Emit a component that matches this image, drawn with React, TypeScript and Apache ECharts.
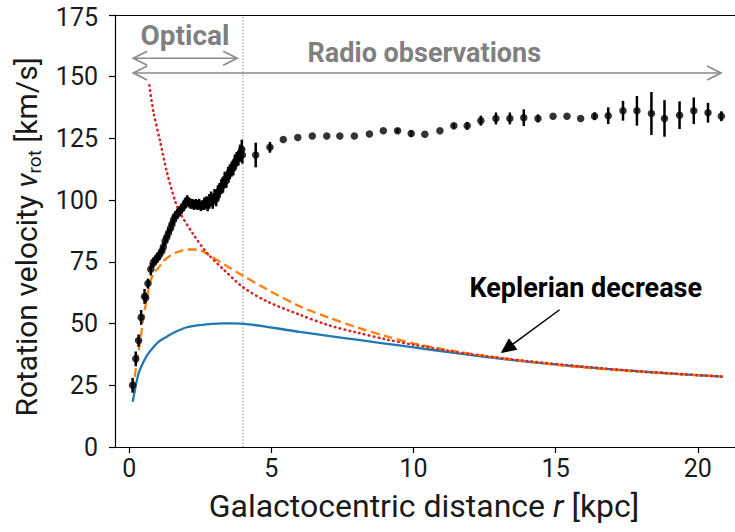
import React, { useEffect, useRef } from "react";
import * as echarts from "echarts";

// ---------- data ----------
const xTickValues = [0, 5, 10, 15, 20];

// optical rotation curve points: [r (kpc), v (km/s), error]
const opticalPoints = [
  [0.12, 25, 3], [0.23, 35.7, 3], [0.33, 43.1, 2.5], [0.42, 52.5, 3], [0.54, 61, 3],
  [0.58, 60.5, 2], [0.66, 66.2, 2], [0.76, 72, 2.5], [0.85, 74.7, 2], [0.91, 75.5, 2],
  [0.99, 76.7, 2], [1.06, 77.8, 2], [1.15, 79.4, 2], [1.2, 81, 2], [1.26, 83.4, 2],
  [1.32, 85, 2], [1.38, 86.7, 2], [1.45, 88.5, 2], [1.5, 90.1, 2], [1.56, 92, 2],
  [1.62, 93.5, 2], [1.7, 94.5, 2], [1.77, 95.5, 2], [1.84, 96.5, 2], [1.91, 97.5, 2],
  [1.98, 98.8, 2], [2.04, 100, 2], [2.1, 99, 2], [2.16, 98.5, 2], [2.22, 98.5, 2],
  [2.28, 98, 2], [2.34, 98.5, 2], [2.4, 98, 2], [2.46, 98.5, 2], [2.52, 97.5, 2],
  [2.58, 98, 2], [2.64, 98.5, 2.5], [2.7, 99, 2.5], [2.76, 98.5, 3], [2.82, 99.5, 3],
  [2.88, 100.5, 3], [2.94, 99.5, 3], [3.0, 101.5, 3], [3.06, 100.5, 3], [3.12, 103, 3],
  [3.18, 104, 3], [3.24, 105.5, 3], [3.3, 106, 3], [3.36, 108.5, 3], [3.42, 108, 3],
  [3.48, 110.5, 3], [3.54, 111.5, 3], [3.6, 112.5, 3], [3.66, 113, 3], [3.72, 115.5, 3],
  [3.78, 116.5, 3], [3.84, 117, 3], [3.9, 119, 3.5], [3.96, 120.5, 4],
];

// radio rotation curve points: [r (kpc), v (km/s), error]
const radioPoints = [
  [3.98, 118.3, 3.5], [4.45, 118.3, 5], [4.95, 121.4, 2.2], [5.42, 124.6, 0], [5.93, 125.4, 0],
  [6.44, 126, 0], [6.95, 126, 0], [7.41, 126, 0], [7.92, 126, 0], [8.45, 126.8, 0],
  [8.94, 128.1, 0], [9.44, 128.1, 1], [9.92, 127, 1.4], [10.4, 126.7, 0], [10.93, 128.1, 0],
  [11.42, 130.1, 1], [11.89, 130.1, 1.6], [12.37, 132.2, 2], [12.9, 133.1, 2.4], [13.39, 133.1, 2.4],
  [13.88, 133.4, 3.4], [14.38, 133.1, 1.6], [14.91, 134, 0], [15.4, 134, 0], [15.88, 133.1, 0],
  [16.37, 134, 1.6], [16.85, 134.2, 3.4], [17.37, 136.2, 4], [17.86, 136.2, 6], [18.37, 135.1, 8.7],
  [18.83, 133.1, 7.4], [19.36, 134.4, 5.6], [19.86, 136.2, 5.4], [20.36, 135.4, 4], [20.83, 134, 2],
];

// model curves: [r, v]
const blueCurve = [
  [0.12, 18.3], [0.2, 23], [0.27, 27], [0.35, 30.5], [0.5, 34.4], [0.65, 37.5], [0.85, 40.4],
  [1.05, 42.8], [1.32, 44.7], [1.6, 46.5], [2.03, 48.5], [2.4, 49.3], [2.85, 49.8], [3.3, 50.1],
  [3.67, 50.1], [4.2, 49.7], [4.84, 48.7], [5.4, 47.7], [6.0, 46.6], [7.0, 45.0], [8.0, 43.5],
  [9.0, 41.9], [10, 40.4], [11.5, 38], [13.1, 35.7], [14.5, 34], [16, 32.4], [17.5, 31],
  [19, 29.8], [20.86, 28.5],
];
const orangeCurve = [
  [0.12, 23], [0.2, 29], [0.3, 37], [0.4, 44], [0.5, 52.5], [0.56, 56.5], [0.65, 62], [0.74, 67],
  [0.85, 70], [1.03, 72.6], [1.2, 75.3], [1.44, 77.5], [1.7, 79], [2.03, 80], [2.38, 80],
  [2.85, 77.4], [3.43, 73.3], [4.02, 69.3], [4.84, 63.9], [6.0, 57.0], [7.0, 52.5], [8.0, 48.5],
  [9.0, 45.0], [10, 42.0], [11.5, 38.7], [13.1, 36.0], [15.25, 33], [17, 31.3], [19, 29.7], [20.86, 28.6],
];
const redCurve = [
  [0.71, 146.5], [0.85, 135.8], [1.09, 123.7], [1.32, 111.6], [1.62, 99.5], [1.79, 94.8],
  [2.26, 86.1], [2.73, 78.7], [3.31, 72], [4.02, 64.6], [4.84, 59.0], [6.0, 53.6], [7.0, 49.4],
  [8.0, 46.4], [9.0, 43.7], [10, 41.4], [12, 37.6], [14, 34.8], [16, 32.5], [18, 30.6], [20.86, 28.5],
];

const opticalLimit = 4;
const opticalArrow = [[0.14, 157.5], [3.8, 157.5]];
const radioArrow = [[0.14, 151.5], [20.82, 151.5]];
const keplerArrow = [[15.14, 55.6], [13.1, 38.3]]; // tail, tip
const annotationTexts = [
  { text: "Optical", r: 1.96, v: 166.6, color: "#808080", size: 28 },
  { text: "Radio observations", r: 10.38, v: 159.5, color: "#808080", size: 27 },
  { text: "Keplerian decrease", r: 16.06, v: 64.5, color: "#000000", size: 27 },
];

const FONT = "Roboto, 'Liberation Sans', sans-serif";

function openHead(tip: number[], from: number[], L: number, W: number) {
  const dx = tip[0] - from[0];
  const dy = tip[1] - from[1];
  const len = Math.hypot(dx, dy) || 1;
  const ux = dx / len, uy = dy / len;
  const nx = -uy, ny = ux;
  const bx = tip[0] - ux * L, by = tip[1] - uy * L;
  return [[bx + nx * W, by + ny * W], [tip[0], tip[1]], [bx - nx * W, by - ny * W]];
}

export default function App() {
  const ref = useRef<HTMLDivElement>(null);
  useEffect(() => {
    if (!ref.current) return;
    const chart = echarts.init(ref.current, undefined, { renderer: "svg" });
    const allPoints = [...opticalPoints, ...radioPoints];

    const option: any = {
      animation: false,
      backgroundColor: "#ffffff",
      grid: { left: 115, top: 12.7, right: 0, bottom: 85, containLabel: false },
      xAxis: [
        {
          type: "value",
          min: -0.5,
          max: 21.31,
          axisLine: { show: true, onZero: false, lineStyle: { color: "#000", width: 1.2 } },
          axisTick: { show: true, length: 6, customValues: xTickValues, lineStyle: { color: "#000", width: 1.2 } },
          axisLabel: {
            customValues: xTickValues,
            margin: 10,
            fontSize: 25,
            lineHeight: 22,
            color: "#1a1a1a",
            fontFamily: FONT,
          },
          splitLine: { show: false },
        },
        {
          type: "value",
          position: "top",
          min: -0.5,
          max: 21.31,
          axisLine: { show: true, onZero: false, lineStyle: { color: "#000", width: 1.2 } },
          axisTick: { show: false },
          axisLabel: { show: false },
          splitLine: { show: false },
        },
      ],
      yAxis: {
        type: "value",
        min: 0,
        max: 175,
        interval: 25,
        axisLine: { show: true, onZero: false, lineStyle: { color: "#000", width: 1.2 } },
        axisTick: { show: true, length: 6, lineStyle: { color: "#000", width: 1.2 } },
        axisLabel: {
          margin: 17,
          fontSize: 25,
          lineHeight: 20,
          color: "#1a1a1a",
          fontFamily: FONT,
          formatter: (v: number) => (v === 175 ? "{t|" + v + "}" : String(v)),
          rich: {
            t: { fontSize: 25, lineHeight: 20, padding: [5, 0, 0, 0], color: "#1a1a1a", fontFamily: FONT },
          },
        },
        splitLine: { show: false },
      },
      graphic: [
        {
          type: "text",
          x: 424,
          y: 506,
          style: {
            text: "Galactocentric distance {i|r} [kpc]",
            align: "center",
            verticalAlign: "middle",
            fontSize: 32,
            fontFamily: FONT,
            fill: "#1a1a1a",
            rich: {
              i: { fontSize: 32, fontStyle: "italic", fontFamily: FONT, fill: "#1a1a1a" },
            },
          },
        },
        {
          type: "text",
          x: 26,
          y: 237,
          rotation: Math.PI / 2,
          style: {
            text: "Rotation velocity {i|v}{s|rot} [km/s]",
            align: "center",
            verticalAlign: "middle",
            fontSize: 30,
            lineHeight: 36,
            fontFamily: FONT,
            fill: "#1a1a1a",
            rich: {
              i: { fontSize: 30, lineHeight: 36, fontStyle: "italic", fontFamily: FONT, fill: "#1a1a1a" },
              s: { fontSize: 19, lineHeight: 20, verticalAlign: "bottom", fontFamily: FONT, fill: "#1a1a1a" },
            },
          },
        },
      ],
      series: [
        {
          type: "line",
          name: "opticalLimit",
          data: [[opticalLimit, 0], [opticalLimit, 175]],
          symbol: "none",
          lineStyle: { color: "#808080", width: 1, type: [1.2, 2] },
          z: 1,
          silent: true,
        },
        {
          type: "line",
          name: "disk",
          data: blueCurve,
          symbol: "none",
          smooth: 0.3,
          lineStyle: { color: "#1f77b4", width: 2.3 },
          z: 2,
        },
        {
          type: "line",
          name: "total",
          data: orangeCurve,
          symbol: "none",
          smooth: 0.3,
          lineStyle: { color: "#ff7f0e", width: 2.3, type: [9, 4.5] },
          z: 2,
        },
        {
          type: "line",
          name: "point",
          data: redCurve,
          symbol: "none",
          smooth: 0.3,
          lineStyle: { color: "#d62728", width: 2.6, type: [0.6, 4.4], cap: "round" },
          z: 2,
        },
        {
          type: "custom",
          name: "errors",
          data: allPoints.filter((p) => p[2] > 0).map((p) => [p[0], p[1] - p[2], p[1] + p[2]]),
          encode: { x: 0, y: [1, 2] },
          renderItem: (params: any, api: any) => {
            const a = api.coord([api.value(0), api.value(1)]);
            const b = api.coord([api.value(0), api.value(2)]);
            return {
              type: "line",
              shape: { x1: a[0], y1: a[1], x2: b[0], y2: b[1] },
              style: { stroke: "#000", lineWidth: 2.5 },
            };
          },
          z: 3,
        },
        {
          type: "scatter",
          name: "data",
          data: allPoints.map((p) => [p[0], p[1]]),
          symbol: "circle",
          symbolSize: 7.5,
          itemStyle: { color: "#000" },
          z: 4,
        },
        {
          type: "custom",
          name: "annotations",
          data: [[0, 0]],
          encode: { x: 0, y: 1 },
          z: 5,
          renderItem: (params: any, api: any) => {
            const children: any[] = [];
            const gray = "#8a8a8a";
            const dbl = (arr: number[][]) => {
              const p1 = api.coord(arr[0]);
              const p2 = api.coord(arr[1]);
              children.push({ type: "line", shape: { x1: p1[0], y1: p1[1], x2: p2[0], y2: p2[1] }, style: { stroke: gray, lineWidth: 1.6 } });
              children.push({ type: "polyline", shape: { points: openHead(p1, p2, 14, 7) }, style: { stroke: gray, lineWidth: 1.6, fill: "none" } });
              children.push({ type: "polyline", shape: { points: openHead(p2, p1, 14, 7) }, style: { stroke: gray, lineWidth: 1.6, fill: "none" } });
            };
            dbl(opticalArrow);
            dbl(radioArrow);
            const t = api.coord(keplerArrow[0]);
            const h = api.coord(keplerArrow[1]);
            const head = openHead(h, t, 14, 6.5);
            const base = [(head[0][0] + head[2][0]) / 2, (head[0][1] + head[2][1]) / 2];
            children.push({ type: "line", shape: { x1: t[0], y1: t[1], x2: base[0], y2: base[1] }, style: { stroke: "#000", lineWidth: 1.5 } });
            children.push({ type: "polygon", shape: { points: head }, style: { fill: "#000", stroke: "#000", lineWidth: 1 } });
            annotationTexts.forEach((a) => {
              const p = api.coord([a.r, a.v]);
              children.push({
                type: "text",
                x: p[0],
                y: p[1],
                style: {
                  text: a.text,
                  align: "center",
                  verticalAlign: "middle",
                  fontSize: a.size,
                  fontWeight: "bold",
                  fontFamily: FONT,
                  fill: a.color,
                },
              });
            });
            return { type: "group", children };
          },
        },
      ],
    };
    chart.setOption(option);
    return () => chart.dispose();
  }, []);
  return (
    <div
      ref={ref}
      style={{ position: "fixed", left: 0, top: 0, width: 735, height: 532, background: "#fff" }}
    />
  );
}
